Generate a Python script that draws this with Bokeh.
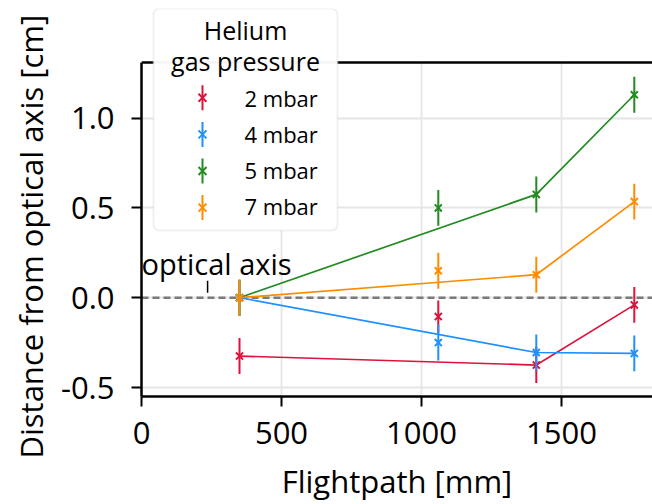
from bokeh.plotting import figure
from bokeh.models import (ColumnDataSource, Range1d, FixedTicker, Span, Title,
                          Label, BoxAnnotation, Arrow, PrintfTickFormatter)
from bokeh.embed import file_html
from bokeh.resources import INLINE

# ---------------- data ----------------
flightpath = [350, 1060, 1410, 1760]          # mm
on_line = [True, False, True, True]            # points joined by the connecting line
pressures = ["2 mbar", "4 mbar", "5 mbar", "7 mbar"]
colors = ["#dc143c", "#1e90ff", "#228b22", "#ff8c00"]

dist_2mbar = [-0.325, -0.105, -0.375, -0.040]
dist_4mbar = [0.000, -0.250, -0.305, -0.310]
dist_5mbar = [0.000, 0.500, 0.575, 1.130]
dist_7mbar = [0.000, 0.150, 0.128, 0.535]

err_2mbar = [0.10, 0.09, 0.10, 0.10]
err_4mbar = [0.10, 0.10, 0.10, 0.10]
err_5mbar = [0.10, 0.10, 0.10, 0.10]
err_7mbar = [0.10, 0.10, 0.10, 0.10]

x_ticks = [0, 500, 1000, 1500]
y_ticks = [-0.5, 0.0, 0.5, 1.0]

x_limits = (0, 1825)
y_limits = (-0.55, 1.31)      # visible axes box
y_canvas_top = 1.61           # extra headroom above the box for the legend

optical_axis_y = 0.0
annot_text = "optical axis"
annot_text_pos = (0, 0.188)
annot_mark_x = 236
annot_mark_y = (0.028, 0.094)

legend_title = ["Helium", "gas pressure"]

# ---------------- layout constants ----------------
FONT = "Open Sans"
W, H = 652, 504
FL, FT, FB = 141, 8, 398   # frame left / top / bottom in canvas px
TXT_SHIFT = 9.5            # baseline correction for labels (px)

p = figure(width=W, height=H, output_backend="svg", toolbar_location=None,
           x_range=Range1d(*x_limits), y_range=Range1d(y_limits[0], y_canvas_top),
           min_border_left=FL, min_border_right=0, min_border_top=FT,
           min_border_bottom=H - FB)
p.outline_line_color = None
p.background_fill_color = "white"
p.border_fill_color = "white"

p.xaxis.ticker = FixedTicker(ticks=x_ticks)
p.yaxis.ticker = FixedTicker(ticks=y_ticks)
p.yaxis.formatter = PrintfTickFormatter(format="%.1f")
p.yaxis.bounds = y_limits
p.xaxis.axis_label = "Flightpath [mm]"
for ax in (p.xaxis[0], p.yaxis[0]):
    ax.axis_line_width = 2.5
    ax.axis_line_color = "black"
    ax.major_tick_line_width = 2
    ax.major_tick_line_color = "black"
    ax.major_tick_out = 10
    ax.major_tick_in = 0
    ax.minor_tick_line_color = None
    ax.major_label_text_font = FONT
    ax.major_label_text_font_size = "31px"
    ax.major_label_text_color = "black"
    ax.axis_label_text_font = FONT
    ax.axis_label_text_font_size = "31px"
    ax.axis_label_text_font_style = "normal"
    ax.axis_label_text_color = "black"
p.xaxis.major_label_standoff = 15
p.xaxis.axis_label_standoff = 13
p.yaxis.major_label_standoff = 17

# y-axis title (a side title, so that it can be shifted to the axes box centre)
p.add_layout(Title(text="Distance from optical axis [cm]", align="left", offset=-62,
                   standoff=11, text_font=FONT, text_font_size="31px",
                   text_font_style="normal", text_color="black"), "left")

p.xgrid.ticker = FixedTicker(ticks=x_ticks)
p.ygrid.ticker = FixedTicker(ticks=y_ticks)
for g in (p.xgrid[0], p.ygrid[0]):
    g.grid_line_color = "#e6e6e6"
    g.grid_line_width = 1.8

# blank headroom above the axes box
p.add_layout(BoxAnnotation(bottom=y_limits[1], fill_color="white", fill_alpha=1.0,
                           line_color=None, level="underlay"))
# top spine
p.add_layout(Span(location=y_limits[1], dimension="width", line_color="black",
                  line_width=2.5))

p.add_layout(Span(location=optical_axis_y, dimension="width", line_color="#7a7a7a",
                  line_width=2.4, line_dash="7 4", level="underlay"))

# ---------------- data glyphs ----------------
series = [dist_2mbar, dist_4mbar, dist_5mbar, dist_7mbar]
errors = [err_2mbar, err_4mbar, err_5mbar, err_7mbar]
for color, ys, es in zip(colors, series, errors):
    src = ColumnDataSource(dict(x=flightpath, y=ys,
                                lo=[y - e for y, e in zip(ys, es)],
                                hi=[y + e for y, e in zip(ys, es)]))
    lx = [x for x, k in zip(flightpath, on_line) if k]
    ly = [y for y, k in zip(ys, on_line) if k]
    p.line(lx, ly, line_color=color, line_width=1.7)
    p.segment(x0="x", y0="lo", x1="x", y1="hi", source=src, line_color=color, line_width=2)
    p.scatter("x", "y", source=src, marker="x", size=10, line_color=color, line_width=2)

# optical axis annotation
p.segment(x0=[annot_mark_x], y0=[annot_mark_y[0]], x1=[annot_mark_x], y1=[annot_mark_y[1]],
          line_color="black", line_width=1.5)
p.add_layout(Label(x=annot_text_pos[0], y=annot_text_pos[1], text=annot_text,
                   text_font=FONT, text_font_size="29px", text_color="black",
                   text_align="left", text_baseline="alphabetic"))

# ---------------- legend (screen units, relative to frame bottom-left) ----------------
def sx(cx):
    return cx - FL

def sy(cy):
    return FB - cy

p.add_layout(BoxAnnotation(left=sx(153), right=sx(337), top=sy(10), bottom=sy(232),
                           left_units="screen", right_units="screen",
                           top_units="screen", bottom_units="screen",
                           fill_color="white", fill_alpha=0.96,
                           line_color="#cccccc", line_width=2, border_radius=6,
                           level="annotation"))
for txt, cy in zip(legend_title, [41, 71.5]):
    p.add_layout(Label(x=sx(245), y=sy(cy - TXT_SHIFT), x_units="screen", y_units="screen",
                       text=txt, text_font=FONT, text_font_size="25px",
                       text_color="black", text_align="center",
                       text_baseline="alphabetic"))
for i, (name, color) in enumerate(zip(pressures, colors)):
    cy = 99.3 + 36.6 * i
    gx = 202
    p.add_layout(Arrow(x_start=sx(gx), y_start=sy(cy - 12.5), x_end=sx(gx), y_end=sy(cy + 12.5),
                       start_units="screen", end_units="screen", end=None,
                       line_color=color, line_width=2))
    for d in (1, -1):
        p.add_layout(Arrow(x_start=sx(gx - 4), y_start=sy(cy - 4 * d),
                           x_end=sx(gx + 4), y_end=sy(cy + 4 * d),
                           start_units="screen", end_units="screen", end=None,
                           line_color=color, line_width=2))
    p.add_layout(Label(x=sx(244), y=sy(108.5 + 36.2 * i - TXT_SHIFT),
                       x_units="screen", y_units="screen",
                       text=name, text_font=FONT, text_font_size="22px",
                       text_color="black", text_align="left", text_baseline="alphabetic"))

open("out.html", "w").write(file_html(p, INLINE))
